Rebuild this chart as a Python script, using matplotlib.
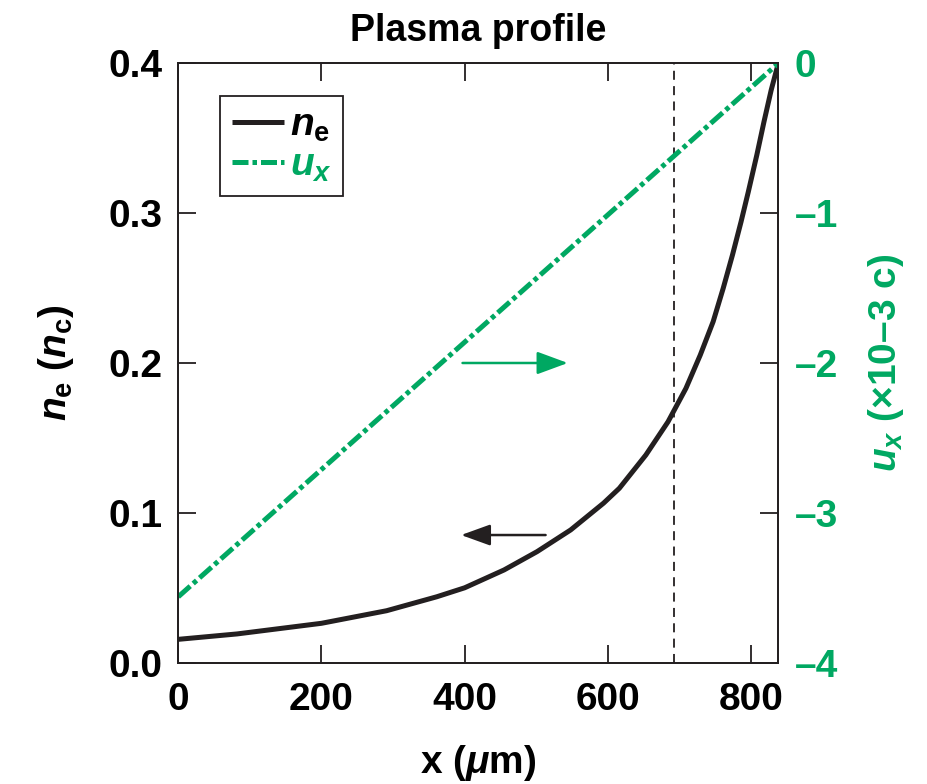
import matplotlib
matplotlib.use('Agg')
from matplotlib import pyplot as plt

plt.rcParams['font.family'] = ['Liberation Sans', 'DejaVu Sans']
plt.rcParams['font.weight'] = 'bold'
plt.rcParams['axes.labelweight'] = 'bold'
plt.rcParams['mathtext.fontset'] = 'custom'
plt.rcParams['mathtext.rm'] = 'Liberation Sans:bold'
plt.rcParams['mathtext.bf'] = 'Liberation Sans:bold'
plt.rcParams['mathtext.it'] = 'Liberation Sans:italic:bold'
plt.rcParams['mathtext.default'] = 'rm'

green = '#00A862'
ink = '#231f20'

# electron density profile (n_c) vs x (um)
x_ne = [0, 82, 200, 291, 361, 400, 455, 501, 548, 594, 616, 653, 684, 709, 729,
        747, 761, 774, 786, 796, 808, 818, 828, 838]
ne = [0.0156, 0.0192, 0.0263, 0.0347, 0.044, 0.050, 0.0619, 0.0741, 0.0886, 0.1065,
      0.1164, 0.1386, 0.1608, 0.1831, 0.2053, 0.2276, 0.2498, 0.2721, 0.2943, 0.314,
      0.3388, 0.361, 0.382, 0.400]

# flow velocity (1e-3 c)
x_ux = [0, 838]
ux = [-3.56, 0.0]

x_quarter = 692
xticks = [0, 200, 400, 600, 800]
yticks = [0.0, 0.1, 0.2, 0.3, 0.4]
yticks_r = [0, -1, -2, -3, -4]

fig = plt.figure(figsize=(9.27, 7.84), dpi=100)
ax1 = fig.add_axes([0.1923, 0.1547, 0.6473, 0.7646])
ax2 = ax1.twinx()

l1, = ax1.plot(x_ne, ne, color=ink, lw=3.6, solid_capstyle='butt',
               solid_joinstyle='round', label=r'$\mathit{n}_\mathrm{e}$')
l2, = ax2.plot(x_ux, ux, color=green, lw=3.6, linestyle=(0, (3.2, 0.8, 0.9, 0.8)),
               label=r'$\mathit{u}_\mathit{x}$')
ax1.axvline(x_quarter, color=ink, lw=1.3, linestyle=(0, (5, 3.5)))

ax1.set_xlim(0, 838)
ax1.set_ylim(0, 0.4)
ax2.set_ylim(-4, 0)

ax1.set_xticks(xticks)
ax1.set_xticklabels([str(v) for v in xticks])
ax1.set_yticks(yticks)
ax1.set_yticklabels(['%.1f' % v for v in yticks])
ax2.set_yticks(yticks_r)
ax2.set_yticklabels(['0'] + ['\u2013%d' % -v for v in yticks_r[1:]])

ax1.tick_params(axis='both', direction='in', length=13, width=1.3, labelsize=28,
                top=True, right=False, color=ink)
ax1.tick_params(axis='x', pad=14)
ax1.tick_params(axis='y', pad=11)
ax2.tick_params(axis='y', direction='in', length=13, width=1.3, labelsize=28,
                labelcolor=green, color=ink, pad=12)

for ax in (ax1, ax2):
    for sp in ax.spines.values():
        sp.set_linewidth(1.3)
        sp.set_color(ink)

ax1.set_xlabel('x ($\\mathit{\\mu}$m)', fontsize=28, fontweight='bold', labelpad=18)
ax1.set_ylabel('$\\mathit{n}_\\mathrm{e}$ ($\\mathit{n}_\\mathrm{c}$)', fontsize=28,
               fontweight='bold', labelpad=24)
ax2.set_ylabel('$\\mathit{u}_\\mathit{x}$ (\u00d710\u20133 c)', fontsize=28,
               fontweight='bold', color=green, rotation=90, labelpad=20)
ax1.set_title('Plasma profile', fontsize=27, fontweight='bold', pad=16)

# direction arrows pointing to each axis
ax1.annotate('', xy=(544, 0.2), xytext=(397, 0.2),
             arrowprops=dict(arrowstyle='-|>,head_length=1.9,head_width=0.7',
                             color=green, lw=1.8, shrinkA=0, shrinkB=0))
ax1.annotate('', xy=(395, 0.0852), xytext=(513, 0.0852),
             arrowprops=dict(arrowstyle='-|>,head_length=1.8,head_width=0.65',
                             color=ink, lw=1.8, shrinkA=0, shrinkB=0))

leg = ax2.legend([l1, l2], [l1.get_label(), l2.get_label()], loc='upper left',
                 bbox_to_anchor=(0.0695, 0.9455), borderaxespad=0, fontsize=28,
                 handlelength=1.34, handletextpad=0.15, labelspacing=0.1,
                 borderpad=0.3, fancybox=False, framealpha=1)
leg.get_frame().set_edgecolor(ink)
leg.get_frame().set_linewidth(1.3)
leg.get_texts()[1].set_color(green)

fig.savefig('out.png', dpi=100)
